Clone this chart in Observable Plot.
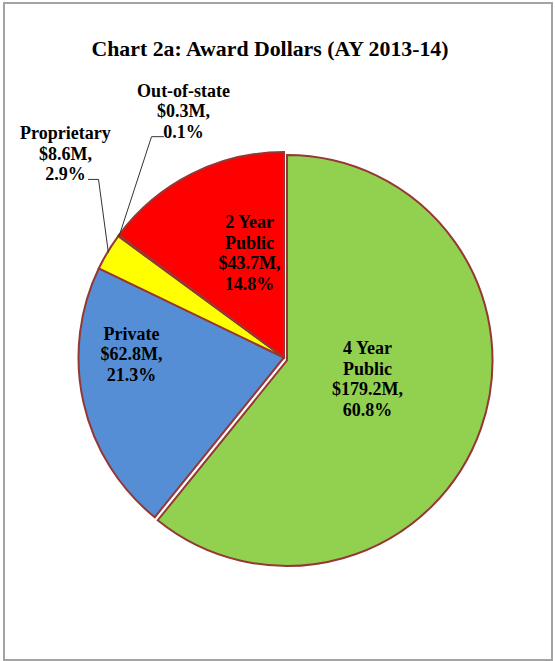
<!DOCTYPE html>
<html><head><meta charset="utf-8">
<script src="https://cdn.jsdelivr.net/npm/d3@7"></script>
<script src="https://cdn.jsdelivr.net/npm/@observablehq/plot@0.6"></script>
<style>
html,body{margin:0;padding:0;background:#fff;}
#frame{position:absolute;left:3px;top:2px;width:550px;height:659px;box-sizing:border-box;border:2px solid #a3a3a3;}
#chart{position:absolute;left:0;top:0;}
</style></head><body>
<div id="frame"></div><div id="chart"></div>
<script>
// ---- data ----
const chartTitle = "Chart 2a: Award Dollars (AY 2013-14)";
const categories = ["4 Year Public", "Private", "Proprietary", "Out-of-state", "2 Year Public"];
const nameLines  = ["4 Year\nPublic", "Private", "Proprietary", "Out-of-state", "2 Year\nPublic"];
const dollarsM   = [179.2, 62.8, 8.6, 0.3, 43.7];
const percents   = [60.8, 21.3, 2.9, 0.1, 14.8];
const colors     = ["#92D050", "#558ED5", "#FFFF00", "#8064A2", "#FF0000"];
const exploded   = [true, false, false, false, false];

// ---- layout (unit-radius coordinates, y up) ----
const labelX = [0.404, -0.745, -1.066, -0.491, -0.170];
const labelY = [-0.100, 0.022, 0.997, 1.204, 0.513];
const leaderFor   = ["Proprietary", "Out-of-state"];
const leaderEndX  = [-0.954, -0.589];
const leaderElbX  = [-0.905, -0.647];
const leaderY     = [0.869, 1.077];

const cx = 284, cy = 357.5, R = 205.5;
const explodePx = [3, 3];
const edgeColor = "#953735";

const rows = categories.map((c, i) => ({
  category: c, value: dollarsM[i], color: colors[i], explode: exploded[i],
  label: `${nameLines[i]}\n$${dollarsM[i].toFixed(1)}M,\n${percents[i].toFixed(1)}%`,
  lx: labelX[i], ly: labelY[i]
}));
const arcs = d3.pie().sort(null).value(d => d.value)(rows);

const leaders = [];
leaderFor.forEach((name, j) => {
  const a = arcs.find(d => d.data.category === name);
  const mid = (a.startAngle + a.endAngle) / 2;
  leaders.push({z: name, x: leaderEndX[j], y: leaderY[j]});
  leaders.push({z: name, x: leaderElbX[j], y: leaderY[j]});
  leaders.push({z: name, x: Math.sin(mid), y: Math.cos(mid)});
});

function pieMark(index, scales) {
  const x0 = scales.x(0), y0 = scales.y(0), r = scales.x(1) - scales.x(0);
  const arc = d3.arc().innerRadius(0).outerRadius(r);
  const g = d3.create("svg:g");
  g.selectAll("path").data(arcs).join("path")
    .attr("transform", d => `translate(${x0 + (d.data.explode ? explodePx[0] : 0)},${y0 + (d.data.explode ? explodePx[1] : 0)})`)
    .attr("d", arc)
    .attr("fill", d => d.data.color)
    .attr("stroke", edgeColor)
    .attr("stroke-width", 2)
    .attr("stroke-linejoin", "miter");
  return g.node();
}

const font = {fontFamily: "'Liberation Serif', 'Times New Roman', serif", fontWeight: "bold", fill: "#000"};

const plot = Plot.plot({
  width: 555, height: 661,
  margin: 0,
  style: {background: "transparent", overflow: "visible"},
  x: {domain: [-1, 1], range: [cx - R, cx + R], axis: null},
  y: {domain: [-1, 1], range: [cy + R, cy - R], axis: null},
  marks: [
    pieMark,
    Plot.line(leaders, {x: "x", y: "y", z: "z", stroke: "#333", strokeWidth: 1}),
    Plot.text(rows, {x: "lx", y: "ly", text: "label", fontSize: 18, lineHeight: 1.14, lineAnchor: "middle", textAnchor: "middle", ...font}),
    Plot.text([chartTitle], {frameAnchor: "top", dx: -8, dy: 49, lineAnchor: "middle", fontSize: 21.8, ...font})
  ]
});
document.getElementById("chart").appendChild(plot);
</script>
</body></html>
